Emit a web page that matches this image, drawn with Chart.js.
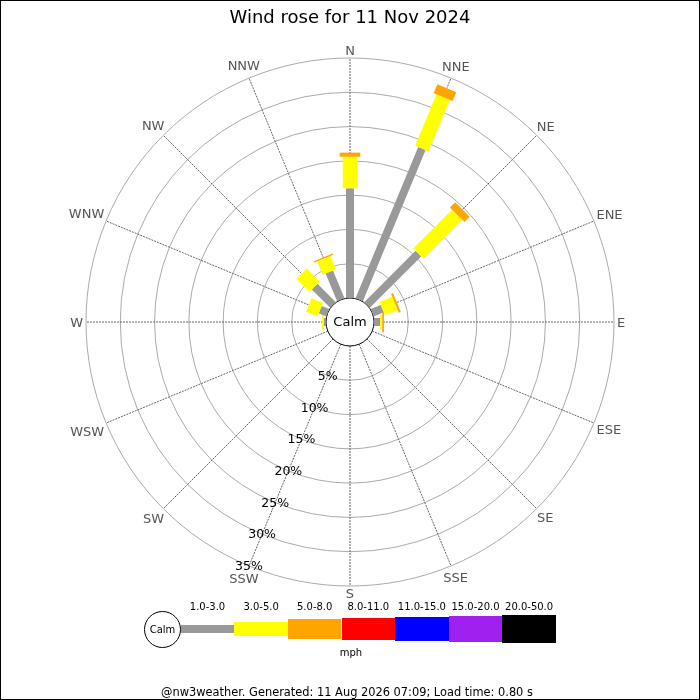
<!DOCTYPE html>
<html>
<head>
<meta charset="utf-8">
<script src="https://cdn.jsdelivr.net/npm/chart.js@4.4.1/dist/chart.umd.min.js"></script>
<style>
  html, body { margin: 0; padding: 0; background: #fff; }
  #wrap { position: relative; width: 700px; height: 700px; font-family: "DejaVu Sans", sans-serif; overflow: hidden; }
  #c { position: absolute; left: 0; top: 0; }
  #frame { position: absolute; left: 0; top: 0; width: 700px; height: 700px; box-sizing: border-box; border: 1px solid #000; pointer-events: none; }
  .abs { position: absolute; }
  .lbl { position: absolute; font-size: 10px; color: #000; transform: translate(-50%, -50%); white-space: nowrap; line-height: 1; }
  #calmKey { position: absolute; box-sizing: border-box; border: 1px solid #000; border-radius: 50%; background: #fff; display: flex; align-items: center; justify-content: center; font-size: 10px; }
  #footer { position: absolute; left: -3px; width: 700px; text-align: center; font-size: 11.4px; color: #000; white-space: nowrap; }
</style>
</head>
<body>
<div id="wrap">
  <canvas id="c" width="700" height="700"></canvas>
  <div id="legend"></div>
  <div id="footer"></div>
  <div id="frame"></div>
</div>
<script>
// ---------- data ----------
const chartTitle = 'Wind rose for 11 Nov 2024';
const directions = ['N','NNE','NE','ENE','E','ESE','SE','SSE','S','SSW','SW','WSW','W','WNW','NW','NNW'];
// percentage of time per direction, by speed band (mph)
const speed1to3 = [16.0, 23.9, 10.6, 1.6, 0.9, 0, 0, 0, 0, 0, 0, 0, 0.3, 1.2, 3.8, 4.4];
const speed3to5 = [4.6, 8.1, 8.0, 2.0, 0.3, 0, 0, 0, 0, 0, 0, 0, 0.3, 1.8, 2.7, 2.1];
const speed5to8 = [0.6, 1.4, 1.1, 0.3, 0.25, 0, 0, 0, 0, 0, 0, 0, 0, 0, 0, 0.2];
const ringTicks = [5, 10, 15, 20, 25, 30, 35];
const speedBands = ['1.0-3.0','3.0-5.0','5.0-8.0','8.0-11.0','11.0-15.0','15.0-20.0','20.0-50.0'];
const bandColors = ['#999999','#ffff00','#ffa500','#ff0000','#0000ff','#a020f0','#000000'];
const speedUnit = 'mph';
const footerText = '@nw3weather. Generated: 11 Aug 2026 07:09; Load time: 0.80 s';

// ---------- drawing ----------
const FONT = '"DejaVu Sans", sans-serif';
const barWidths = [8, 14.5, 20.5, 22.5, 24.5, 26.5, 28.5];

const windRosePlugin = {
  id: 'windRose',
  afterDatasetsDraw(chart) {
    const s = chart.scales.r;
    const ctx = chart.ctx;
    ctx.save();
    // calm circle
    const calmR = s.getDistanceFromCenterForValue(0);
    ctx.beginPath();
    ctx.arc(s.xCenter, s.yCenter, calmR, 0, Math.PI * 2);
    ctx.fillStyle = '#fff';
    ctx.fill();
    ctx.lineWidth = 1;
    ctx.strokeStyle = '#000';
    ctx.stroke();
    ctx.fillStyle = '#000';
    ctx.font = '13px ' + FONT;
    ctx.textAlign = 'center';
    ctx.textBaseline = 'middle';
    ctx.fillText('Calm', s.xCenter, s.yCenter + 1);

    // stacked bars
    const bands = [speed1to3, speed3to5, speed5to8];
    ctx.lineCap = 'butt';
    directions.forEach((d, i) => {
      let base = 0;
      bands.forEach((arr, b) => {
        const v = arr[i];
        if (!v) return;
        const p0 = s.getPointPositionForValue(i, base);
        const p1 = s.getPointPositionForValue(i, base + v);
        ctx.beginPath();
        ctx.lineWidth = barWidths[b];
        ctx.strokeStyle = bandColors[b];
        ctx.moveTo(p0.x, p0.y);
        ctx.lineTo(p1.x, p1.y);
        ctx.stroke();
        base += v;
      });
    });

    // direction labels just outside the outer ring, centred on each spoke
    ctx.font = '13px ' + FONT;
    ctx.fillStyle = '#555';
    ctx.textAlign = 'center';
    ctx.textBaseline = 'alphabetic';
    const capH = 13 * 0.729;
    directions.forEach((d, i) => {
      const w = ctx.measureText(d).width;
      const a = s.getIndexAngle(i);
      const sx = Math.abs(Math.sin(a)), sy = Math.abs(Math.cos(a));
      const ext = (w / 2) * sx + (capH / 2) * sy;
      const p = s.getPointPosition(i, s.drawingArea + 3 + ext);
      ctx.fillText(d, p.x, p.y + capH / 2);
    });

    // ring labels along SSW spoke
    const sswIndex = directions.indexOf('SSW');
    ctx.fillStyle = '#000';
    ctx.font = '12.5px ' + FONT;
    ctx.textBaseline = 'middle';
    ringTicks.forEach(v => {
      const p = s.getPointPositionForValue(sswIndex, v);
      ctx.fillText(v + '%', p.x, p.y + 1);
    });
    ctx.restore();
  }
};

const datasets = [speed1to3, speed3to5, speed5to8].map((arr, b) => ({
  label: speedBands[b],
  data: arr,
  borderColor: 'rgba(0,0,0,0)',
  backgroundColor: 'rgba(0,0,0,0)',
  borderWidth: 0,
  pointRadius: 0,
  fill: false
}));

new Chart(document.getElementById('c'), {
  type: 'radar',
  data: { labels: directions, datasets: datasets },
  options: {
    responsive: false,
    animation: false,
    devicePixelRatio: 1,
    layout: { padding: { left: 86, right: 86, top: 0, bottom: 113 } },
    plugins: {
      legend: { display: false },
      tooltip: { enabled: false },
      title: {
        display: true,
        text: chartTitle,
        color: '#000',
        font: { family: FONT, size: 18, weight: 'normal' },
        padding: { top: 8, bottom: 28.5 }
      }
    },
    scales: {
      r: {
        min: -3.5,
        max: 35,
        afterBuildTicks: (scale) => { scale.ticks = [0].concat(ringTicks).map(v => ({ value: v })); },
        ticks: { display: false },
        grid: {
          circular: true,
          lineWidth: 1,
          color: (c) => (c.tick && c.tick.value === 0) ? 'rgba(0,0,0,0)' : '#aaaaaa'
        },
        angleLines: { color: '#666', lineWidth: 1, borderDash: [2, 1] },
        pointLabels: { display: false }
      }
    }
  },
  plugins: [windRosePlugin]
});

// ---------- HTML legend ----------
(function () {
  const lg = document.getElementById('legend');
  const calm = document.createElement('div');
  calm.id = 'calmKey';
  calm.style.left = '144px'; calm.style.top = '611px';
  calm.style.width = '37px'; calm.style.height = '37px';
  calm.textContent = 'Calm';
  lg.appendChild(calm);
  const x0 = 180.7, segW = 53.6, cy = 629.2;
  speedBands.forEach((band, k) => {
    const h = barWidths[k];
    const bar = document.createElement('div');
    bar.className = 'abs';
    bar.style.left = (x0 + k * segW) + 'px';
    bar.style.width = segW + 'px';
    bar.style.top = (cy - h / 2) + 'px';
    bar.style.height = h + 'px';
    bar.style.background = bandColors[k];
    lg.appendChild(bar);
    const t = document.createElement('div');
    t.className = 'lbl';
    t.style.left = (x0 + (k + 0.5) * segW) + 'px';
    t.style.top = '606.5px';
    t.textContent = band;
    lg.appendChild(t);
  });
  const u = document.createElement('div');
  u.className = 'lbl';
  u.style.left = '351px'; u.style.top = '653px';
  u.textContent = speedUnit;
  lg.appendChild(u);
  const f = document.getElementById('footer');
  f.style.top = '685px';
  f.textContent = footerText;
})();
</script>
</body>
</html>
